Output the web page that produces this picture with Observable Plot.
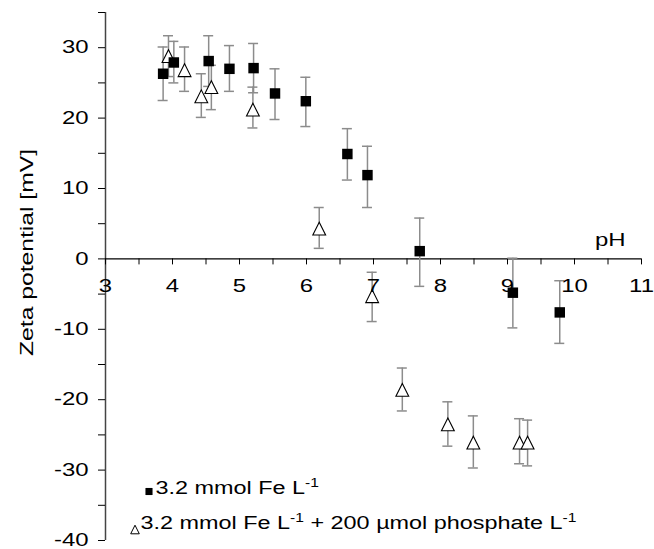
<!DOCTYPE html>
<html>
<head>
<meta charset="utf-8">
<script src="https://cdn.jsdelivr.net/npm/d3@7"></script>
<script src="https://cdn.jsdelivr.net/npm/@observablehq/plot@0.6"></script>
<style>
  body { margin: 0; background: #fff; }
  #chart svg { font-family: "Liberation Sans", Arial, Helvetica, sans-serif; }
</style>
</head>
<body>
<div id="chart"></div>
<script>
// Series 1: 3.2 mmol Fe L-1
const pHFe   = [3.86, 4.02, 4.54, 4.85, 5.21, 5.53, 5.99, 6.61, 6.91, 7.69, 9.08, 9.78];
const zetaFe = [26.3, 27.9, 28.1, 27.0, 27.1, 23.5, 22.4, 14.9, 11.9, 1.1, -4.8, -7.6];
const hiFe   = [30.1, 30.9, 31.7, 30.3, 30.6, 27.0, 25.8, 18.5, 16.0, 5.8, 0.1, -3.1];
const loFe   = [22.5, 25.0, 24.5, 23.8, 23.6, 19.8, 18.8, 11.2, 7.3, -3.9, -9.8, -12.0];

// Series 2: 3.2 mmol Fe L-1 + 200 µmol phosphate L-1
const pHP    = [3.94, 4.18, 4.43, 4.58, 5.20, 6.19, 6.98, 7.43, 8.11, 8.49, 9.18, 9.30];
const zetaP  = [28.8, 26.8, 23.1, 24.4, 21.2, 4.3, -5.3, -18.6, -23.5, -26.1, -26.1, -26.1];
const hiP    = [31.7, 30.1, 26.3, 27.5, 24.4, 7.3, -1.9, -15.5, -20.3, -22.3, -22.7, -22.9];
const loP    = [25.9, 23.8, 20.1, 21.2, 18.6, 1.5, -8.9, -21.6, -26.6, -29.7, -29.1, -29.4];

// Axis ticks and labels
const xMajorTicks = [3, 4, 5, 6, 7, 8, 9, 10, 11];
const xMinorTicks = [3.5, 4.5, 5.5, 6.5, 7.5, 8.5, 9.5, 10.5];
const yMajorTicks = [-40, -30, -20, -10, 0, 10, 20, 30];
const yMinorTicks = [-35, -25, -15, -5, 5, 15, 25, 35];
const xTitle = "pH";
const yTitle = "Zeta potential [mV]";
const SUP = "^-1";   // marks a superscript "-1"
const legendLabels = ["3.2 mmol Fe L" + SUP, "3.2 mmol Fe L" + SUP + " + 200 \u00B5mol phosphate L" + SUP];

const fe = pHFe.map((x, i) => ({x, y: zetaFe[i], hi: hiFe[i], lo: loFe[i]}));
const ph = pHP.map((x, i) => ({x, y: zetaP[i], hi: hiP[i], lo: loP[i]}));

const triangle = {
  draw(context, size) {
    const r = Math.sqrt(size / Math.PI);
    context.moveTo(0, -r);
    context.lineTo(r, r);
    context.lineTo(-r, r);
    context.closePath();
  }
};

const errColor = "#8c8c8c";
const fs = 18;

const errMarks = (data) => [
  Plot.ruleX(data, {x: "x", y1: "lo", y2: "hi", stroke: errColor, strokeWidth: 1.5}),
  Plot.ruleY(data, {y: "hi", x1: "x", x2: "x", insetLeft: -5, insetRight: -5, stroke: errColor, strokeWidth: 1.5}),
  Plot.ruleY(data, {y: "lo", x1: "x", x2: "x", insetLeft: -5, insetRight: -5, stroke: errColor, strokeWidth: 1.5})
];

const chart = Plot.plot({
  width: 654,
  height: 549,
  marginLeft: 105,
  marginRight: 13,
  marginTop: 12,
  marginBottom: 9,
  x: {domain: [3, 11], axis: null},
  y: {domain: [-40, 35], axis: null},
  style: {fontSize: fs + "px", background: "#fff", color: "#000"},
  marks: [
    // y axis line and ticks
    Plot.ruleX([3], {x: d => d, stroke: "#444", strokeWidth: 1.5}),
    Plot.ruleY(yMajorTicks.concat(yMinorTicks), {y: d => d, x1: () => 3, x2: () => 3, insetLeft: -7, stroke: "#000"}),
    Plot.text(yMajorTicks, {y: d => d, text: d => String(d), frameAnchor: "left", textAnchor: "end", dx: -17, fontSize: fs}),
    // x axis line (at y = 0) and ticks
    Plot.ruleY([0], {y: d => d, stroke: "#000", strokeWidth: 1.3}),
    Plot.ruleX(xMajorTicks.concat(xMinorTicks), {x: d => d, y1: () => 0, y2: () => 0, insetBottom: -6, stroke: "#000"}),
    // error bars
    ...errMarks(fe),
    ...errMarks(ph),
    // markers
    Plot.dot(ph, {x: "x", y: "y", symbol: triangle, r: 6.4, fill: "#fff", stroke: "#000", strokeWidth: 1.1}),
    Plot.dot(fe, {x: "x", y: "y", symbol: "square", r: 5.9, fill: "#000", stroke: "none"}),
    // x tick labels (drawn on top)
    Plot.text(xMajorTicks, {x: d => d, y: () => 0, text: d => String(d), textAnchor: "middle", dy: 27, fontSize: fs}),
    // axis titles
    Plot.text([xTitle], {x: () => 11, y: () => 0, text: d => d, textAnchor: "end", dx: -16, dy: -19, fontSize: fs}),
    Plot.text([yTitle], {frameAnchor: "left", text: d => d, textAnchor: "middle", rotate: -90, dx: -78, dy: -24, fontSize: fs}),
    // legend
    Plot.dot([legendLabels[0]], {frameAnchor: "bottom-left", dx: 43.5, dy: -49, symbol: "square", r: 4, fill: "#000", stroke: "none"}),
    Plot.text([legendLabels[0]], {frameAnchor: "bottom-left", text: d => d, textAnchor: "start", dx: 50, dy: -47, fontSize: fs}),
    Plot.dot([legendLabels[1]], {frameAnchor: "bottom-left", dx: 29.5, dy: -11, symbol: triangle, r: 4.3, fill: "#fff", stroke: "#000", strokeWidth: 1}),
    Plot.text([legendLabels[1]], {frameAnchor: "bottom-left", text: d => d, textAnchor: "start", dx: 35, dy: -12, fontSize: fs})
  ]
});

document.getElementById("chart").appendChild(chart);

const NS = "http://www.w3.org/2000/svg";
// Superscripts as tspans
chart.querySelectorAll("text").forEach(t => {
  const txt = t.textContent;
  if (!txt.includes(SUP)) return;
  t.dataset.legend = "1";
  const parts = txt.split(SUP);
  t.textContent = "";
  parts.forEach((p, i) => {
    if (i > 0) {
      const s = document.createElementNS(NS, "tspan");
      s.textContent = "-1";
      s.setAttribute("font-size", "12");
      s.setAttribute("dy", "-7");
      t.appendChild(s);
    }
    if (p) {
      const n = document.createElementNS(NS, "tspan");
      n.textContent = p;
      if (i > 0) n.setAttribute("dy", "7");
      t.appendChild(n);
    }
  });
});

// Horizontally widen glyphs to match the reference's wide lettering
chart.querySelectorAll("text").forEach(t => {
  const w = t.getComputedTextLength();
  if (!(w > 0)) return;
  const stretch = t.dataset.legend ? 1.3 : (t.textContent === yTitle ? 1.37 : 1.33);
  const W = w * stretch;
  const anchor = getComputedStyle(t).textAnchor;
  const x0 = parseFloat(t.getAttribute("x")) || 0;
  const shift = anchor === "middle" ? W / 2 : anchor === "end" ? W : 0;
  t.setAttribute("x", (x0 - shift).toFixed(2));
  t.style.textAnchor = "start";
  t.setAttribute("textLength", W.toFixed(1));
  t.setAttribute("lengthAdjust", "spacingAndGlyphs");
});
</script>
</body>
</html>
